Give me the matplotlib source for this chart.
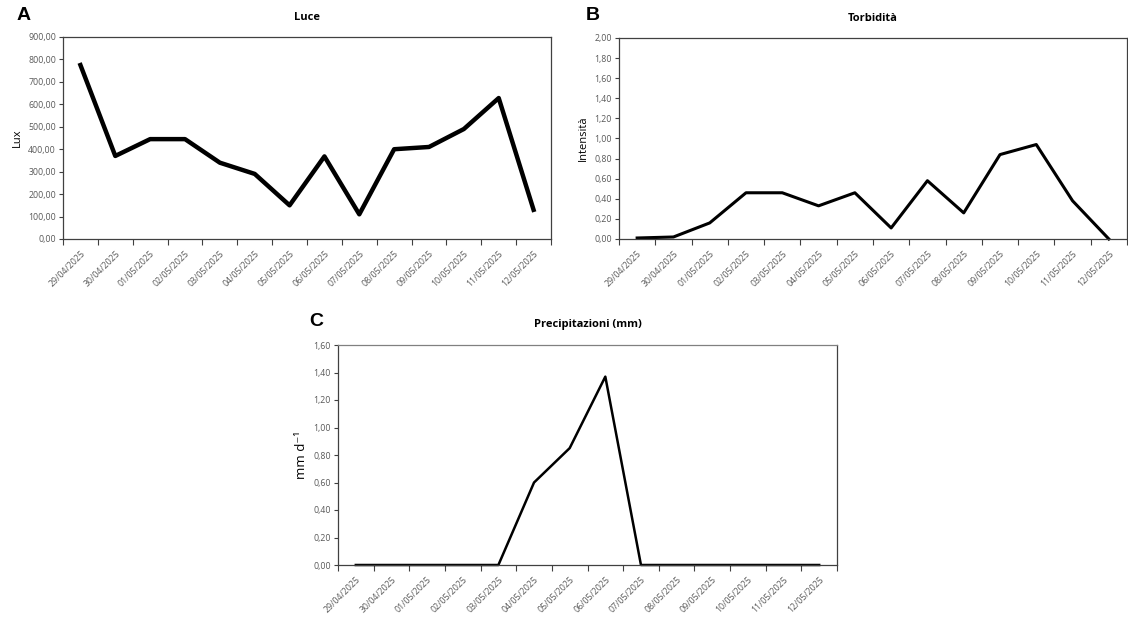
import matplotlib
matplotlib.use('Agg')
import matplotlib.pyplot as plt
import numpy as np
from matplotlib.ticker import FuncFormatter

plt.rcParams['font.family'] = ['Open Sans', 'DejaVu Sans']

dates = ['29/04/2025', '30/04/2025', '01/05/2025', '02/05/2025', '03/05/2025',
         '04/05/2025', '05/05/2025', '06/05/2025', '07/05/2025', '08/05/2025',
         '09/05/2025', '10/05/2025', '11/05/2025', '12/05/2025']
luce = [775, 370, 445, 445, 340, 290, 150, 368, 110, 400, 410, 490, 628, 130]
torbidita = [0.01, 0.02, 0.16, 0.46, 0.46, 0.33, 0.46, 0.11, 0.58, 0.26, 0.84, 0.94, 0.38, 0.00]
pioggia = [0, 0, 0, 0, 0, 0.60, 0.85, 1.37, 0, 0, 0, 0, 0, 0]

W, H = 1128, 623
fig = plt.figure(figsize=(W / 100, H / 100), dpi=100)


def px_axes(x0, y0, x1, y1):
    return fig.add_axes([x0 / W, 1 - y1 / H, (x1 - x0) / W, (y1 - y0) / H])


def comma_fmt(y, _):
    return '{:.2f}'.format(y).replace('.', ',')


def style_panel(ax, values, ymax, ystep, title, ylabel, lw, title_pad=12, ylab_size=8):
    x = np.arange(len(values))
    ax.plot(x, values, color='black', lw=lw, solid_joinstyle='round', clip_on=False)
    ax.set_xlim(-0.5, len(values) - 0.5)
    ax.set_ylim(0, ymax)
    ax.set_yticks(np.arange(0, ymax + ystep / 2, ystep))
    ax.yaxis.set_major_formatter(FuncFormatter(comma_fmt))
    # category axis: labels at centres, ticks between categories
    ax.set_xticks(x)
    ax.set_xticklabels(dates, rotation=45, ha='right', rotation_mode='anchor')
    ax.set_xticks(np.arange(-0.5, len(values)), minor=True)
    ax.tick_params(axis='x', which='major', length=0, pad=7, labelsize=6.3, labelcolor='#595959')
    ax.tick_params(axis='x', which='minor', length=4, width=0.8, color='#404040')
    ax.tick_params(axis='y', length=3, width=0.8, color='#404040', labelsize=6.3,
                   labelcolor='#595959', pad=2)
    for s in ax.spines.values():
        s.set_linewidth(0.9)
        s.set_color('#404040')
    ax.set_title(title, fontsize=8, fontweight='bold', pad=title_pad)
    ax.set_ylabel(ylabel, fontsize=ylab_size, labelpad=4)


axA = px_axes(63, 37, 551, 239)
style_panel(axA, luce, 900, 100, 'Luce', 'Lux', 3.2)

axB = px_axes(619, 38, 1127, 239)
style_panel(axB, torbidita, 2.0, 0.2, 'Torbidità', 'Intensità', 2.2)

axC = px_axes(338, 345, 837, 565)
style_panel(axC, pioggia, 1.6, 0.2, 'Precipitazioni (mm)', 'mm d⁻¹', 1.8,
            title_pad=13, ylab_size=9.5)
axC.spines['top'].set_color('#808080')

# panel letters
for letter, (px, py) in zip(['A', 'B', 'C'], [(17, 15), (586, 15), (309, 321)]):
    fig.text(px / W, 1 - py / H, letter, fontsize=14, fontweight='bold',
             family=['Liberation Sans', 'DejaVu Sans'], ha='left', va='center')

fig.savefig('out.png', dpi=100)
